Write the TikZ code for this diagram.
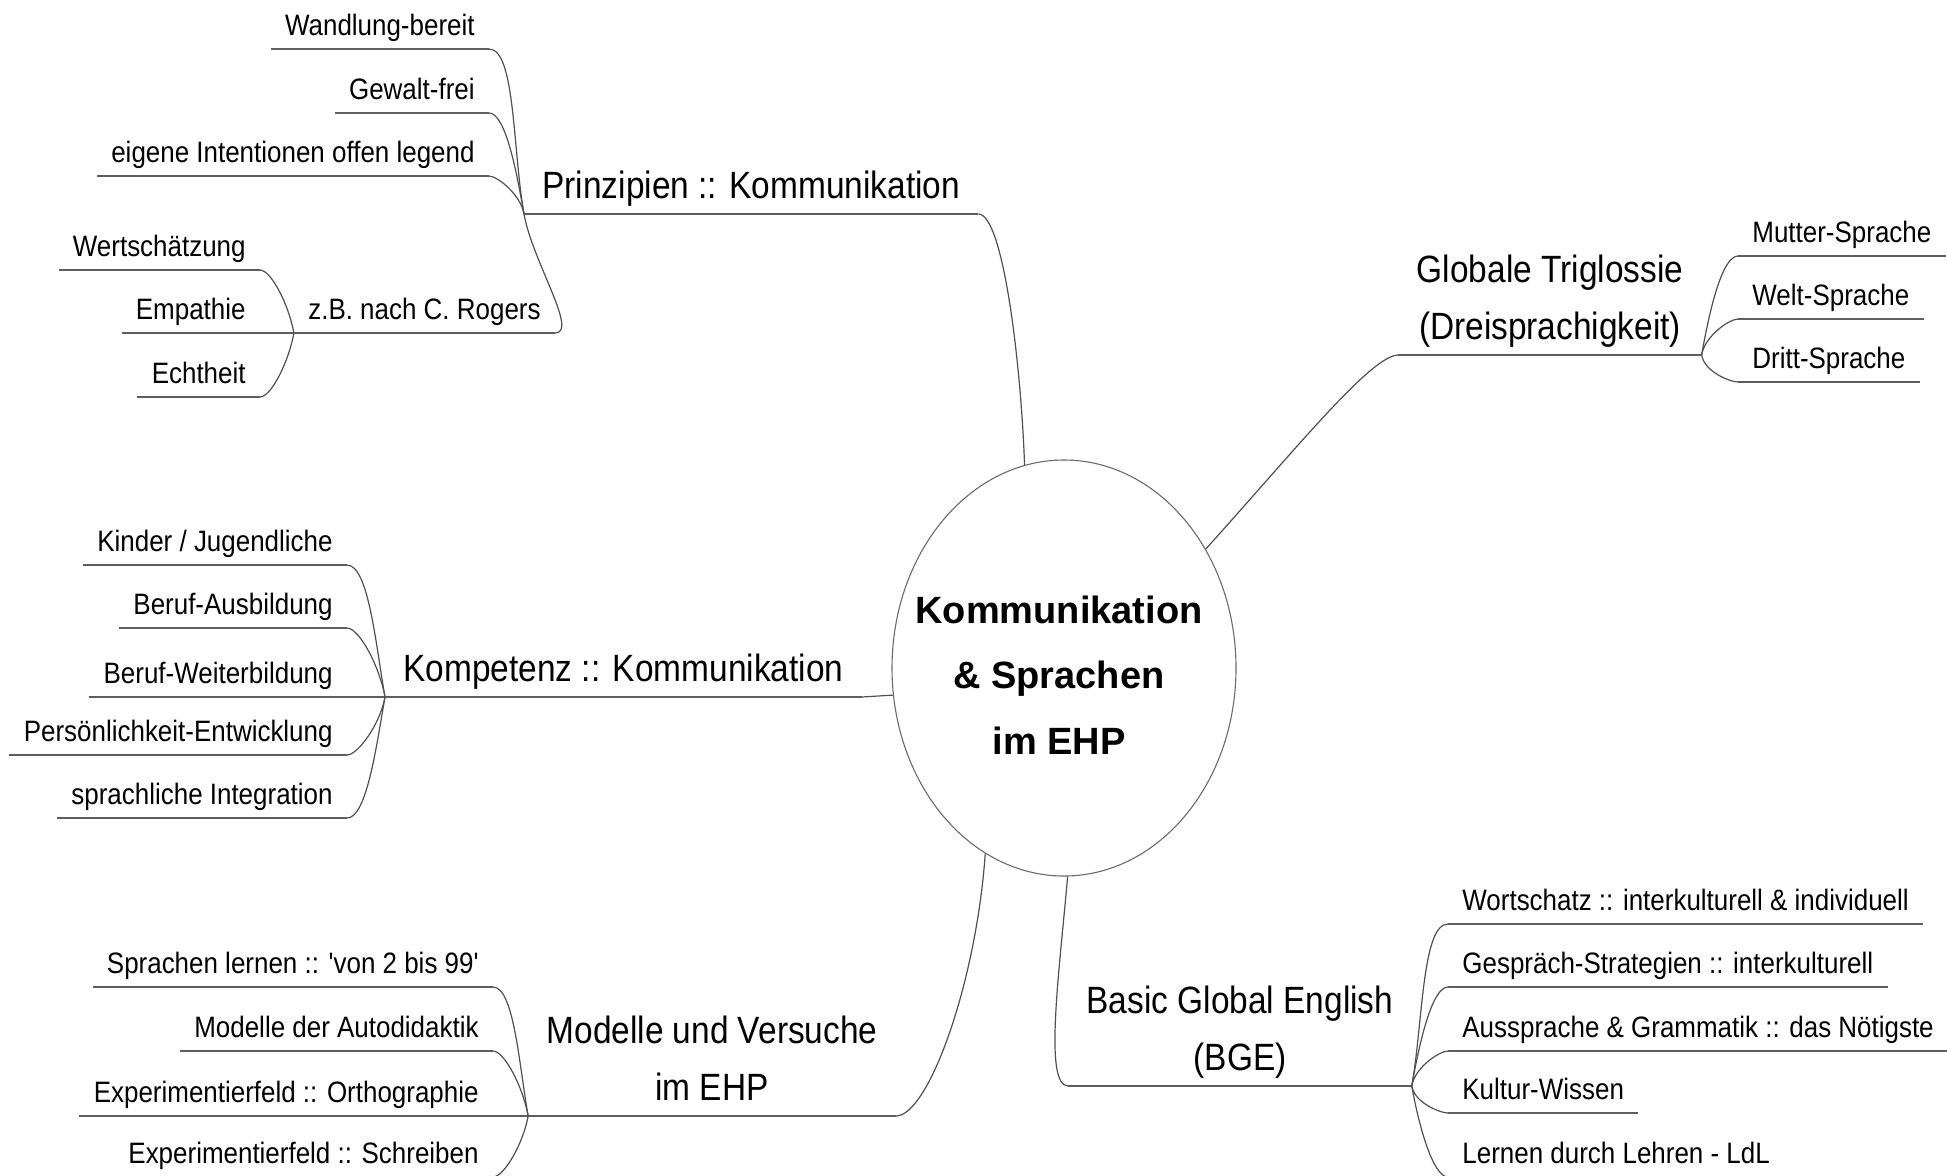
\documentclass[tikz,border=0pt]{standalone}
\usepackage{fontspec}
\setmainfont{Liberation Sans}
\newfontfamily\narrowsans{Liberation Sans}[FakeStretch=0.88]
\usetikzlibrary{shapes.geometric}
\definecolor{lncol}{HTML}{505050}
\definecolor{ulcol}{HTML}{5E5E5E}
\definecolor{rimcol}{HTML}{6A6A6A}
\tikzset{
  leaf/.style={font=\narrowsans\fontsize{14.75}{17}\selectfont, inner xsep=7pt, inner ysep=6.75pt, text depth=0pt, text=black},
  branch/.style={font=\narrowsans\fontsize{19}{28.5}\selectfont, inner xsep=9pt, inner ysep=7.5pt, text depth=0pt, align=center, text=black},
  uline/.style={draw=ulcol, line width=1pt},
  conn/.style={draw=lncol, line width=0.6pt},
  lup/.style={out=0, in=100, out looseness=0.4, in looseness=1},
  ldn/.style={out=0, in=-100, out looseness=0.4, in looseness=1},
  rup/.style={out=180, in=80, out looseness=0.4, in looseness=1},
  rdn/.style={out=180, in=-80, out looseness=0.4, in looseness=1}
}
\begin{document}
\begin{tikzpicture}[x=0.5pt,y=0.5pt]
\useasboundingbox[fill=white] (0,0) rectangle (1947,-1175);

% centre
\node[draw=rimcol, line width=0.55pt, ellipse, minimum width=172pt, minimum height=208pt, inner sep=0pt] (c) at (1064,-668) {};
\node[font=\bfseries\fontsize{19}{32.75}\selectfont, align=center, text=black] (ctext) at (1059,-675) {Kommunikation\\\& Sprachen\\im EHP};

% main branches
\node[branch, anchor=south west] (prin) at (524,-214) {Prinzipien :: Kommunikation};
\node[branch, anchor=south west] (komp) at (385,-697) {Kompetenz :: Kommunikation};
\node[branch, anchor=south] (modl) at (712,-1116) {Modelle und Versuche\\im EHP};
\node[branch, anchor=south] (glob) at (1550,-355) {Globale Triglossie\\(Dreisprachigkeit)};
\node[branch, anchor=south] (bge) at (1240,-1086) {Basic Global English\\(BGE)};

% Prinzipien leaves
\node[leaf, anchor=south east] (wand) at (489,-49) {Wandlung-bereit};
\node[leaf, anchor=south east] (gew) at (489,-113) {Gewalt-frei};
\node[leaf, anchor=south east] (eig) at (489,-176) {eigene Intentionen offen legend};
\node[leaf, anchor=south east] (rog) at (555,-333) {z.B. nach C. Rogers};
\node[leaf, anchor=south east] (wert) at (260,-270) {Wertschätzung};
\node[leaf, anchor=south east] (emp) at (260,-333) {Empathie};
\node[leaf, anchor=south east] (echt) at (260,-397) {Echtheit};

% Kompetenz leaves
\node[leaf, anchor=south east] (kind) at (347,-565) {Kinder / Jugendliche};
\node[leaf, anchor=south east] (ausb) at (347,-628) {Beruf-Ausbildung};
\node[leaf, anchor=south east] (weit) at (347,-697) {Beruf-Weiterbildung};
\node[leaf, anchor=south east] (pers) at (347,-755) {Persönlichkeit-Entwicklung};
\node[leaf, anchor=south east] (spra) at (347,-818) {sprachliche Integration};

% Modelle leaves
\node[leaf, anchor=south east] (sprl) at (493,-987) {Sprachen lernen :: 'von 2 bis 99'};
\node[leaf, anchor=south east] (auto) at (493,-1051) {Modelle der Autodidaktik};
\node[leaf, anchor=south east] (orth) at (493,-1116) {Experimentierfeld :: Orthographie};
\node[leaf, anchor=south east] (schr) at (493,-1177) {Experimentierfeld :: Schreiben};

% Triglossie leaves
\node[leaf, anchor=south west] (mut) at (1738,-256) {Mutter-Sprache};
\node[leaf, anchor=south west] (welt) at (1738,-319) {Welt-Sprache};
\node[leaf, anchor=south west] (drit) at (1738,-382) {Dritt-Sprache};

% BGE leaves
\node[leaf, anchor=south west] (wort) at (1448,-924) {Wortschatz :: interkulturell \& individuell};
\node[leaf, anchor=south west] (gesp) at (1448,-987) {Gespräch-Strategien :: interkulturell};
\node[leaf, anchor=south west] (ausp) at (1448,-1051) {Aussprache \& Grammatik :: das Nötigste};
\node[leaf, anchor=south west] (kult) at (1448,-1113) {Kultur-Wissen};
\node[leaf, anchor=south west] (lern) at (1448,-1177) {Lernen durch Lehren - LdL};

% branch connectors
\draw[uline] (prin.south west) -- (prin.south east);
\draw[conn] (prin.south east) to[out=0, in=92, out looseness=0.25, in looseness=1] (c.101);
\draw[uline] (komp.south west) -- (komp.south east);
\draw[conn] (komp.south east) -- (c.189);
\draw[uline] (modl.south west) -- (modl.south east);
\draw[conn] (modl.south east) to[out=0, in=266, out looseness=0.3, in looseness=1.2] (c.247);
\draw[conn] (c.40) to[out=48, in=180, out looseness=1.3, in looseness=0.25] (glob.south west);
\draw[uline] (glob.south west) -- (glob.south east);
\draw[conn] (c.271) to[out=265, in=180, out looseness=1.2, in looseness=0.3] (bge.south west);
\draw[uline] (bge.south west) -- (bge.south east);

% Prinzipien group
\draw[uline] (wand.south west) -- (wand.south east);
\draw[conn] (wand.south east) to[lup] (prin.south west);
\draw[uline] (gew.south west) -- (gew.south east);
\draw[conn] (gew.south east) to[lup] (prin.south west);
\draw[uline] (eig.south west) -- (eig.south east);
\draw[conn] (eig.south east) to[lup] (prin.south west);
\draw[uline] (rog.south west) -- (rog.south east);
\draw[conn] (rog.south east) to[out=0, in=-80, out looseness=0.5, in looseness=1] (prin.south west);
\draw[uline] (wert.south west) -- (wert.south east);
\draw[conn] (wert.south east) to[lup] (rog.south west);
\draw[uline] (emp.south west) -- (rog.south west);
\draw[uline] (echt.south west) -- (echt.south east);
\draw[conn] (echt.south east) to[ldn] (rog.south west);

% Kompetenz group
\draw[uline] (kind.south west) -- (kind.south east);
\draw[conn] (kind.south east) to[lup] (komp.south west);
\draw[uline] (ausb.south west) -- (ausb.south east);
\draw[conn] (ausb.south east) to[lup] (komp.south west);
\draw[uline] (weit.south west) -- (komp.south west);
\draw[uline] (pers.south west) -- (pers.south east);
\draw[conn] (pers.south east) to[ldn] (komp.south west);
\draw[uline] (spra.south west) -- (spra.south east);
\draw[conn] (spra.south east) to[ldn] (komp.south west);

% Modelle group
\draw[uline] (sprl.south west) -- (sprl.south east);
\draw[conn] (sprl.south east) to[lup] (modl.south west);
\draw[uline] (auto.south west) -- (auto.south east);
\draw[conn] (auto.south east) to[lup] (modl.south west);
\draw[uline] (orth.south west) -- (modl.south west);
\draw[uline] (schr.south west) -- (schr.south east);
\draw[conn] (schr.south east) to[ldn] (modl.south west);

% Triglossie group
\draw[uline] (mut.south west) -- (mut.south east);
\draw[conn] (mut.south west) to[rup] (glob.south east);
\draw[uline] (welt.south west) -- (welt.south east);
\draw[conn] (welt.south west) to[rup] (glob.south east);
\draw[uline] (drit.south west) -- (drit.south east);
\draw[conn] (drit.south west) to[rdn] (glob.south east);

% BGE group
\draw[uline] (wort.south west) -- (wort.south east);
\draw[conn] (wort.south west) to[rup] (bge.south east);
\draw[uline] (gesp.south west) -- (gesp.south east);
\draw[conn] (gesp.south west) to[rup] (bge.south east);
\draw[uline] (ausp.south west) -- (ausp.south east);
\draw[conn] (ausp.south west) to[rup] (bge.south east);
\draw[uline] (kult.south west) -- (kult.south east);
\draw[conn] (kult.south west) to[rdn] (bge.south east);
\draw[uline] (lern.south west) -- (lern.south east);
\draw[conn] (lern.south west) to[rdn] (bge.south east);
\end{tikzpicture}
\end{document}
